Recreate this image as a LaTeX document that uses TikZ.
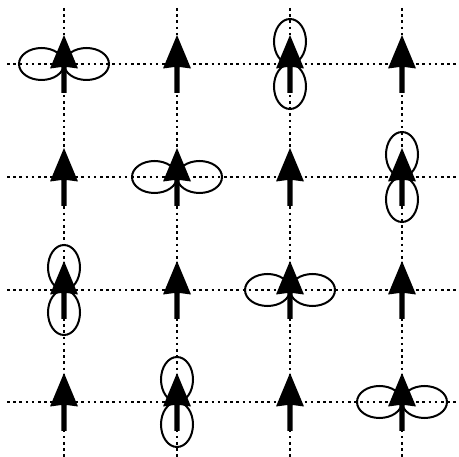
\documentclass[tikz,border=0pt]{standalone}
\begin{document}
\begin{tikzpicture}[x=1pt,y=-1pt,
  gridline/.style={line width=1.2pt,dash pattern=on 2.6pt off 3.6pt},
  lobe/.style={line width=2pt},
  pics/spin/.style={code={
    \fill (-2.6,29) -- (-2.6,3) -- (-14,4.5) -- (0,-29) -- (14,4.5) -- (2.6,3) -- (2.6,29) -- cycle;
  }},
  pics/horb/.style={code={
    \draw[lobe] (-22.5,0) ellipse [x radius=22.5pt, y radius=16pt];
    \draw[lobe] (22.5,0) ellipse [x radius=22.5pt, y radius=16pt];
  }},
  pics/vorb/.style={code={
    \draw[lobe] (0,-22.5) ellipse [x radius=16pt, y radius=22.5pt];
    \draw[lobe] (0,22.5) ellipse [x radius=16pt, y radius=22.5pt];
  }}]
\useasboundingbox (0,0) rectangle (459,457);
% grid lines
\foreach \c/\v in {1/64,2/177,3/290,4/402}{
  \coordinate (top\c) at (\v,8);
  \coordinate (bot\c) at (\v,457);
  \coordinate (lft\c) at (7,\v);
  \coordinate (rgt\c) at (459,\v);
  \draw[gridline] (top\c) -- (bot\c);
  \draw[gridline] (lft\c) -- (rgt\c);
}
% sites
\foreach \r/\y in {1/64,2/177,3/290,4/402}{
  \foreach \c/\x in {1/64,2/177,3/290,4/402}{
    \coordinate (s\r\c) at (\x,\y);
  }
}
% orbitals
\pic at (s11) {horb};
\pic at (s13) {vorb};
\pic at (s22) {horb};
\pic at (s24) {vorb};
\pic at (s31) {vorb};
\pic at (s33) {horb};
\pic at (s42) {vorb};
\pic at (s44) {horb};
% spins
\foreach \r in {1,2,3,4}{
  \foreach \c in {1,2,3,4}{
    \pic at (s\r\c) {spin};
  }
}
\end{tikzpicture}
\end{document}
